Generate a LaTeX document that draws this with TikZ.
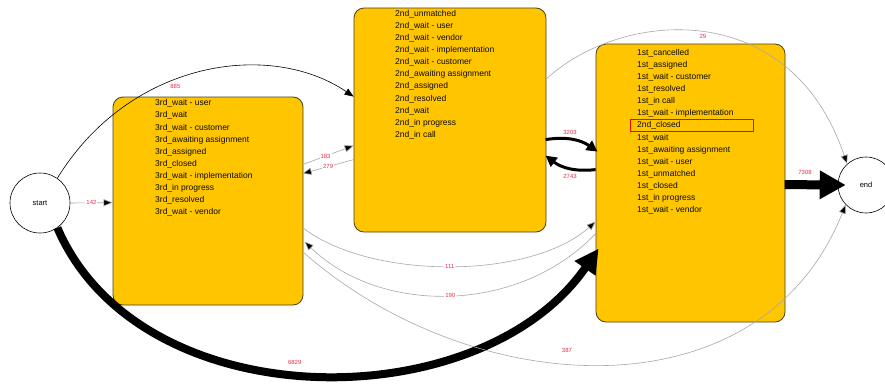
\documentclass[tikz,border=0pt]{standalone}
\usepackage{fontspec}
\setmainfont{Liberation Sans}
\usetikzlibrary{arrows.meta,calc}
\definecolor{boxfill}{HTML}{FFC600}
\definecolor{boxline}{HTML}{4A3E1A}
\definecolor{countred}{HTML}{E0304A}
\definecolor{faint}{HTML}{A8A8A8}
\begin{document}
\begin{tikzpicture}[x=1pt,y=-1pt,
  statebox/.style={draw=boxline,line width=0.8pt,fill=boxfill,rounded corners=10pt,inner sep=0pt},
  statelist/.style={anchor=north west,inner sep=0pt,align=left,text=black!85!boxline,font=\fontsize{8.5}{12.1}\selectfont},
  terminal/.style={circle,draw=black,line width=0.6pt,fill=white,inner sep=0pt,font=\fontsize{7.5}{9}\selectfont},
  count/.style={text=countred,font=\fontsize{6}{7}\selectfont,inner sep=1pt},
  oncount/.style={count,fill=white},
  thinblack/.style={draw=black,line width=0.6pt,-{Triangle[length=9pt,width=7pt]}},
  thingray/.style={draw=faint,line width=0.6pt,-{Triangle[length=9pt,width=7pt,fill=black]}},
  midflow/.style={draw=black,line width=3pt,-{Triangle[length=11pt,width=11pt]}},
  heavyflow/.style={draw=black,line width=8pt,-{Triangle[length=24pt,width=24pt]}},
  flagbox/.style={draw=red,line width=0.7pt,inner sep=0pt}]
\useasboundingbox[fill=white] (0,0) rectangle (885,383);

% terminal states
\node[terminal,minimum size=60pt] (start) at (40,203) {start};
\node[terminal,minimum size=56pt] (finish) at (866,185) {end};

% grouped states
\node[statebox,minimum width=190pt,minimum height=208pt] (third) at (208,201) {};
\node[statebox,minimum width=192pt,minimum height=224pt] (second) at (450,120) {};
\node[statebox,minimum width=189pt,minimum height=278pt] (first) at (690.5,183) {};

\node[statelist] (thirdlist) at (155,99.5) {3rd\_wait - user\\3rd\_wait\\3rd\_wait - customer\\3rd\_awaiting assignment\\3rd\_assigned\\3rd\_closed\\3rd\_wait - implementation\\3rd\_in progress\\3rd\_resolved\\3rd\_wait - vendor};
\node[statelist] (secondlist) at (395,10) {2nd\_unmatched\\2nd\_wait - user\\2nd\_wait - vendor\\2nd\_wait - implementation\\2nd\_wait - customer\\2nd\_awaiting assignment\\2nd\_assigned\\2nd\_resolved\\2nd\_wait\\2nd\_in progress\\2nd\_in call};
\node[statelist] (firstlist) at (637,49) {1st\_cancelled\\1st\_assigned\\1st\_wait - customer\\1st\_resolved\\1st\_in call\\1st\_wait - implementation\\2nd\_closed\\1st\_wait\\1st\_awaiting assignment\\1st\_wait - user\\1st\_unmatched\\1st\_closed\\1st\_in progress\\1st\_wait - vendor};
\node[flagbox,minimum width=123pt,minimum height=12pt] (flag) at (691.5,125) {};

% transitions
\draw[thinblack] (start.55) .. controls (130,60) and (270,40) .. ($(second.north west)+(0,89)$)
  node[count,pos=0.42,below=3pt] (c885) {885};
\draw[thingray] (start.east) -- ($(third.north west)+(0,106)$)
  node[oncount,pos=0.5] (c142) {142};
\draw[heavyflow] (start.-55) .. controls (140,420) and (480,420) .. ($(first.north west)+(3,205)$)
  node[count,pos=0.47,above=4pt] (c6829) {6829};

\draw[thingray] ($(third.north west)+(190,68)$) -- ($(second.north west)+(0,138)$)
  node[oncount,pos=0.45] (c183) {183};
\draw[thingray] ($(second.north west)+(0,152)$) -- ($(third.north west)+(190,77)$)
  node[oncount,pos=0.5] (c279) {279};

\draw[midflow] ($(second.north west)+(192,132)$) to[bend left=22] ($(first.north west)+(2,108)$);
\node[count] (c3203) at (570,132) {3203};
\draw[midflow] ($(first.north west)+(0,126)$) to[bend left=22] ($(second.north west)+(192,148)$);
\node[count] (c2743) at (570,176) {2743};

\draw[thingray] ($(third.north west)+(190,131)$) .. controls (370,280) and (530,280) .. ($(first.north west)+(0,178)$)
  node[oncount,pos=0.5] (c111) {111};
\draw[thingray] ($(first.north west)+(2,188)$) .. controls (520,315) and (380,315) .. ($(third.north west)+(192,145)$)
  node[oncount,pos=0.5] (c190) {190};
\draw[thingray] ($(third.north west)+(190,155)$) .. controls (470,400) and (760,420) .. (finish.-136)
  node[count,pos=0.44,above=10pt] (c387) {387};
\draw[thingray] ($(second.north west)+(192,72)$) .. controls (620,10) and (790,-5) .. (finish.132)
  node[count,pos=0.5,below=1pt] (c29) {29};

\draw[heavyflow,line width=9pt,-{Triangle[length=26pt,width=27pt]}] ($(first.north west)+(189,141)$) -- ([xshift=8pt]finish.west);
\node[count] (c7308) at (805,172) {7308};
\end{tikzpicture}
\end{document}
